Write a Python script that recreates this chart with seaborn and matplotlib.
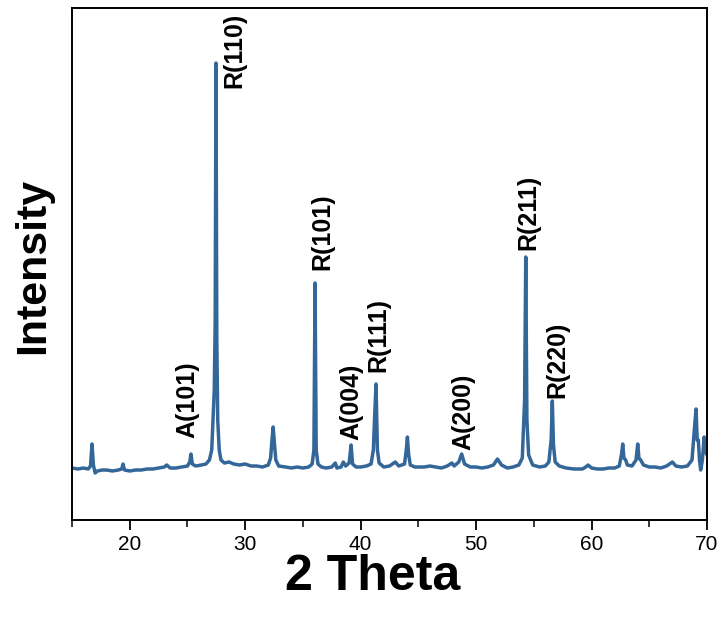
import matplotlib
matplotlib.use("Agg")
import matplotlib.pyplot as plt
from matplotlib.ticker import MultipleLocator, NullLocator
import seaborn as sns
import pandas as pd

# XRD trace: 2-theta (degrees) and intensity (arb. units)
two_theta = [
    15.0, 15.5, 16.0, 16.4, 16.6, 16.73, 16.85, 17.0, 17.2, 17.6, 18.0, 18.5, 19.0, 19.3,
    19.42, 19.55, 20.0, 20.5, 21.0, 21.5, 22.0, 22.5, 23.0, 23.2, 23.5, 24.0, 24.5, 25.0,
    25.2, 25.3, 25.42, 25.7, 26.2, 26.6, 26.9, 27.1, 27.25, 27.32, 27.4, 27.47, 27.54,
    27.62, 27.75, 27.9, 28.2, 28.6, 29.0, 29.5, 30.0, 30.5, 31.0, 31.5, 32.0, 32.2, 32.32,
    32.42, 32.52, 32.65, 32.9, 33.5, 34.0, 34.5, 35.0, 35.5, 35.8, 35.95, 36.05, 36.15,
    36.3, 36.6, 37.0, 37.5, 37.8, 37.95, 38.3, 38.5, 38.7, 39.0, 39.17, 39.3, 39.6, 40.0,
    40.5, 40.9, 41.1, 41.2, 41.33, 41.45, 41.6, 42.0, 42.5, 43.0, 43.3, 43.8, 43.95, 44.05,
    44.15, 44.3, 44.7, 45.5, 46.0, 46.5, 47.0, 47.5, 47.9, 48.1, 48.5, 48.75, 49.0, 49.5,
    50.0, 50.5, 51.0, 51.5, 51.85, 52.2, 52.7, 53.2, 53.7, 54.0, 54.2, 54.3, 54.4, 54.55,
    54.9, 55.5, 56.0, 56.3, 56.5, 56.6, 56.7, 56.85, 57.2, 57.8, 58.5, 59.2, 59.5, 59.7,
    60.0, 60.5, 61.0, 61.5, 62.0, 62.4, 62.6, 62.7, 62.8, 62.95, 63.1, 63.5, 63.85, 64.0,
    64.1, 64.25, 64.5, 65.0, 65.5, 66.0, 66.5, 67.0, 67.3, 67.8, 68.3, 68.7, 68.9, 69.05,
    69.15, 69.25, 69.35, 69.45, 69.6, 69.75, 69.85, 70.0,
]
intensity = [
    52, 51, 52, 51, 54, 76, 55, 47, 49, 50, 50, 49, 50, 51,
    56, 50, 49, 50, 50, 51, 51, 52, 53, 55, 52, 52, 53, 54,
    58, 66, 56, 54, 55, 56, 60, 70, 110, 130, 200, 457, 180,
    100, 70, 60, 57, 58, 56, 55, 56, 54, 54, 53, 55, 62, 80,
    93, 78, 60, 54, 53, 52, 53, 52, 53, 56, 70, 237, 70,
    56, 53, 52, 53, 57, 52, 53, 58, 54, 57, 75, 56, 53, 53,
    54, 56, 70, 100, 136, 70, 57, 53, 54, 58, 54, 56, 70, 83,
    66, 55, 53, 53, 54, 53, 52, 54, 57, 54, 58, 66, 56, 53,
    53, 52, 53, 55, 61, 55, 52, 53, 55, 62, 120, 263, 100, 65,
    55, 53, 54, 58, 80, 119, 75, 58, 54, 52, 51, 51, 53, 55,
    52, 51, 51, 52, 52, 54, 66, 76, 62, 60, 55, 54, 60, 76,
    62, 60, 55, 53, 53, 52, 54, 58, 54, 53, 54, 60, 90, 111,
    80, 80, 60, 50, 60, 83, 70, 65,
]

# Phase / reflection labels (A = anatase, R = rutile) and where they sit
peak_labels = ["A(101)", "R(110)", "R(101)", "A(004)", "R(111)", "A(200)", "R(211)", "R(220)"]
label_x = [24.96, 29.1, 36.65, 39.17, 41.5, 48.9, 54.5, 57.0]
label_y = [82, 432, 250, 80, 148, 70, 270, 122]

sns.set_theme(style="ticks")
plt.rcParams["font.family"] = ["Liberation Sans", "DejaVu Sans"]

df = pd.DataFrame({"2 Theta": two_theta, "Intensity": intensity})

fig = plt.figure(figsize=(7.21, 6.17), dpi=100)
ax = fig.add_axes([0.0999, 0.1572, 0.8807, 0.8298])

sns.lineplot(data=df, x="2 Theta", y="Intensity", ax=ax, color="#336699",
             linewidth=2.5, estimator=None, sort=False)

for txt, lx, ly in zip(peak_labels, label_x, label_y):
    ax.text(lx, ly, txt, rotation=90, ha="center", va="bottom",
            fontsize=18, fontweight="bold", color="black")

ax.set_xlim(15, 70)
ax.set_ylim(0, 512)
ax.xaxis.set_major_locator(MultipleLocator(10))
ax.xaxis.set_minor_locator(MultipleLocator(5))
ax.yaxis.set_major_locator(NullLocator())
ax.yaxis.set_minor_locator(NullLocator())
ax.tick_params(axis="x", which="major", direction="out", length=7, width=1.3,
               labelsize=15, pad=4, colors="black")
ax.tick_params(axis="x", which="minor", direction="out", length=5, width=1.3)

for s in ax.spines.values():
    s.set_visible(True)
    s.set_linewidth(1.4)
    s.set_color("black")

ax.set_xlabel("2 Theta", fontsize=36, fontweight="bold", color="black")
ax.set_ylabel("Intensity", fontsize=31, fontweight="bold", color="black")
ax.xaxis.set_label_coords(0.473, -0.137)
ax.xaxis.label.set_va("baseline")
ax.yaxis.set_label_coords(-0.0614, 0.496)
ax.yaxis.label.set_va("center")

fig.savefig("out.png", dpi=100)
